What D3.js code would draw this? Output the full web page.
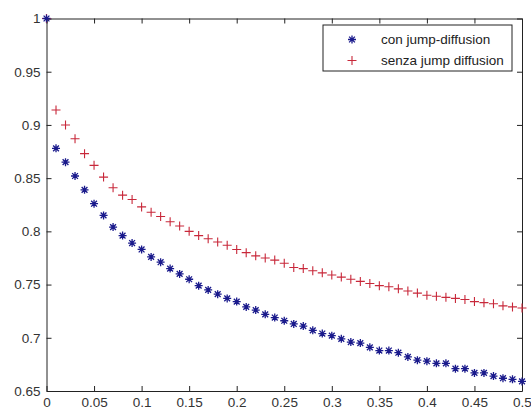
<!DOCTYPE html>
<html>
<head>
<meta charset="utf-8">
<script src="https://cdn.jsdelivr.net/npm/d3@7"></script>
<style>
  body { margin: 0; background: #fff; }
  svg { display: block; }
  text { font-family: "Liberation Sans", Arial, sans-serif; }
</style>
</head>
<body>
<div id="figure"></div>
<script>
// x values: 0, 0.01, ..., 0.5
var xValues = d3.range(51).map(function (i) { return i / 100; });

// "con jump-diffusion" (blue asterisks)
var conJump = [
    1.000, 0.878, 0.865, 0.852, 0.839, 0.826, 0.815, 0.804, 0.796, 0.789,
    0.783, 0.776, 0.771, 0.765, 0.760, 0.755, 0.749, 0.745, 0.741, 0.737,
    0.734, 0.729, 0.726, 0.722, 0.719, 0.716, 0.713, 0.711, 0.707, 0.704,
    0.702, 0.699, 0.696, 0.695, 0.691, 0.688, 0.688, 0.686, 0.682, 0.679,
    0.678, 0.676, 0.676, 0.671, 0.671, 0.667, 0.667, 0.664, 0.662, 0.661,
    0.659
];

// "senza jump diffusion" (red plus)
var senzaJump = [
    1.000, 0.914, 0.900, 0.887, 0.873, 0.862, 0.851, 0.841, 0.834, 0.830,
    0.823, 0.818, 0.814, 0.809, 0.805, 0.800, 0.796, 0.793, 0.790, 0.787,
    0.783, 0.780, 0.777, 0.775, 0.773, 0.770, 0.766, 0.765, 0.763, 0.761,
    0.759, 0.757, 0.755, 0.753, 0.751, 0.749, 0.748, 0.746, 0.744, 0.742,
    0.740, 0.739, 0.738, 0.737, 0.736, 0.734, 0.733, 0.732, 0.730, 0.729,
    0.728
];

var xTicks = [0, 0.05, 0.1, 0.15, 0.2, 0.25, 0.3, 0.35, 0.4, 0.45, 0.5];
var yTicks = [0.65, 0.7, 0.75, 0.8, 0.85, 0.9, 0.95, 1];
var legendLabels = ["con jump-diffusion", "senza jump diffusion"];

var blue = "#1a1a8c";
var red = "#c8283a";

var width = 531, height = 411;
var plotLeft = 46.5, plotRight = 522, plotTop = 18.5, plotBottom = 391;

var svg = d3.select("#figure")
    .append("svg")
    .attr("width", width)
    .attr("height", height);

var x = d3.scaleLinear().domain([0, 0.5]).range([plotLeft, plotRight]);
var y = d3.scaleLinear().domain([0.65, 1]).range([plotBottom, plotTop]);

function fmt(d) { return String(+d.toFixed(2)); }

// axes, MATLAB style: ticks inward on all four sides
svg.append("g")
    .attr("transform", "translate(0," + plotBottom + ")")
    .call(d3.axisBottom(x).tickValues(xTicks).tickFormat(fmt).tickSizeInner(-5).tickSizeOuter(0).tickPadding(6));
svg.append("g")
    .attr("transform", "translate(0," + plotTop + ")")
    .call(d3.axisTop(x).tickValues(xTicks).tickFormat("").tickSizeInner(-5).tickSizeOuter(0));
svg.append("g")
    .attr("transform", "translate(" + plotLeft + ",0)")
    .call(d3.axisLeft(y).tickValues(yTicks).tickFormat(fmt).tickSizeInner(-5).tickSizeOuter(0).tickPadding(6));
svg.append("g")
    .attr("transform", "translate(" + plotRight + ",0)")
    .call(d3.axisRight(y).tickValues(yTicks).tickFormat("").tickSizeInner(-5).tickSizeOuter(0));

svg.selectAll(".domain, .tick line").attr("stroke", "#222").attr("stroke-width", 1);
svg.selectAll(".tick text")
    .attr("font-size", 13.5)
    .attr("fill", "#333");

// marker paths
var starPath = "M-4,0H4M0,-4V4M-2.9,-2.9L2.9,2.9M-2.9,2.9L2.9,-2.9";
var plusPath = "M-4.5,0H4.5M0,-4.5V4.5";

var conData = xValues.map(function (v, i) { return [v, conJump[i]]; });
var senzaData = xValues.map(function (v, i) { return [v, senzaJump[i]]; });

svg.append("g").selectAll("path")
    .data(senzaData)
    .enter().append("path")
    .attr("d", plusPath)
    .attr("transform", function (d) { return "translate(" + x(d[0]) + "," + y(d[1]) + ")"; })
    .attr("stroke", red)
    .attr("stroke-width", 1.1)
    .attr("fill", "none");

svg.append("g").selectAll("path")
    .data(conData)
    .enter().append("path")
    .attr("d", starPath)
    .attr("transform", function (d) { return "translate(" + x(d[0]) + "," + y(d[1]) + ")"; })
    .attr("stroke", blue)
    .attr("stroke-width", 1.3)
    .attr("fill", "none");

// legend
var legend = svg.append("g").attr("transform", "translate(323,25)");
legend.append("rect")
    .attr("width", 189)
    .attr("height", 46)
    .attr("fill", "#fff")
    .attr("stroke", "#222")
    .attr("stroke-width", 1);

var items = legend.selectAll("g.item")
    .data(legendLabels)
    .enter().append("g")
    .attr("class", "item")
    .attr("transform", function (d, i) { return "translate(0," + (14.5 + i * 21) + ")"; });

items.append("path")
    .attr("d", function (d, i) { return i === 0 ? starPath : plusPath; })
    .attr("transform", "translate(29,0)")
    .attr("stroke", function (d, i) { return i === 0 ? blue : red; })
    .attr("stroke-width", function (d, i) { return i === 0 ? 1.3 : 1.1; })
    .attr("fill", "none");

items.append("text")
    .attr("x", 58)
    .attr("y", 4.5)
    .attr("font-size", 13.5)
    .attr("fill", "#222")
    .text(function (d) { return d; });
</script>
</body>
</html>
